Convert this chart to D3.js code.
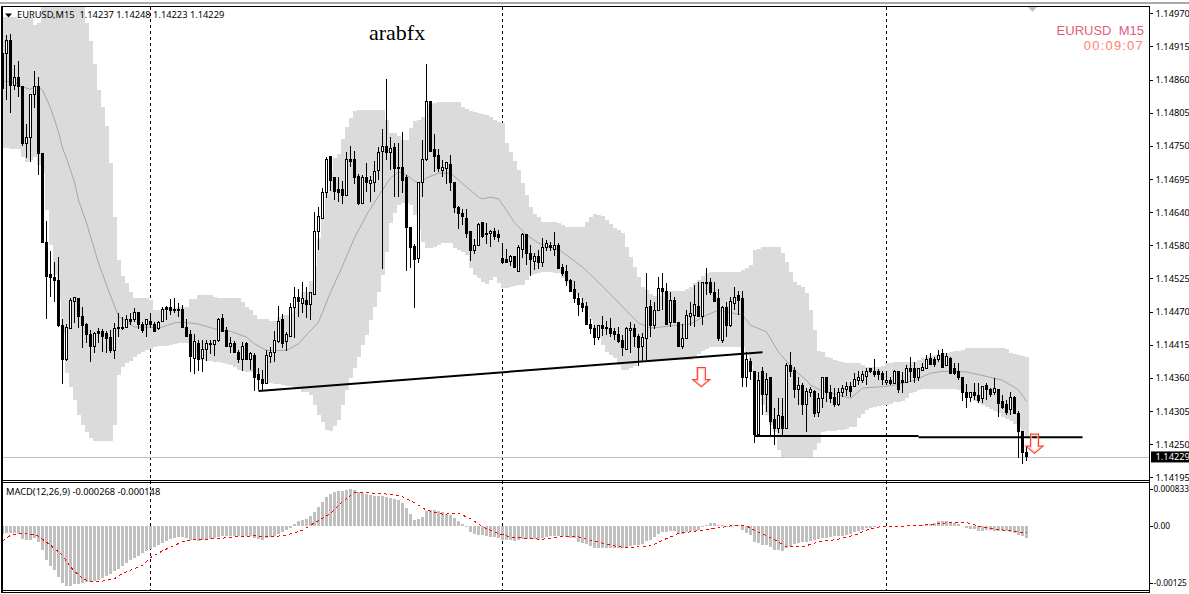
<!DOCTYPE html>
<html><head><meta charset="utf-8">
<script src="https://cdn.jsdelivr.net/npm/d3@7"></script>
<style>html,body{margin:0;padding:0;background:#fff;overflow:hidden}svg{display:block}
text{font-family:"Noto Sans",sans-serif;font-size:9.3px;fill:#000}</style>
</head><body><svg id="c" width="1189" height="594"></svg>
<script>
// Prices are in quote points above 1.14000 (845 = 1.14845). MACD values are in millionths.
const opens=[845,903,925,850,863,848,753,762,835,848,
736,588,533,528,523,448,391,444,489,494,
463,451,433,414,439,439,436,428,406,446,
446,446,459,458,471,451,451,456,451,443,
456,478,478,476,476,476,446,434,394,419,
394,409,418,416,423,461,441,413,419,403,
391,418,392,399,366,359,352,396,403,421,
458,421,431,478,496,486,491,483,501,606,
628,670,730,695,675,675,666,725,726,698,
653,695,685,688,708,740,748,738,746,711,
713,695,613,581,561,688,726,823,742,733,
708,711,718,688,645,636,628,605,573,583,
620,603,603,606,600,561,558,556,563,538,
576,600,569,556,563,553,579,583,576,583,
546,539,523,508,494,486,481,451,443,428,
448,446,443,439,434,423,409,441,444,431,
413,426,481,449,474,511,506,453,491,454,
413,426,463,466,481,464,519,521,504,494,
423,478,448,486,499,493,362,389,371,266,
372,334,362,292,276,297,277,382,374,341,
349,316,336,339,304,327,361,337,329,316,
337,342,346,347,357,357,364,376,372,371,
369,354,356,352,371,357,354,376,376,361,
374,377,394,392,391,401,382,394,376,372,
362,337,329,336,331,326,349,341,336,342,
321,317,309,329,302,271,237];
const closes=[903,925,850,862,847,753,763,835,848,736,
588,531,528,524,448,392,446,491,496,463,
449,433,413,436,436,431,426,407,444,443,
443,459,456,471,451,441,459,451,439,454,
476,476,473,474,474,446,431,397,421,392,
409,419,419,423,459,438,413,418,403,391,
414,391,401,362,359,352,399,404,424,456,
419,434,479,496,488,493,484,503,606,630,
670,726,691,673,671,665,725,723,695,653,
696,688,690,706,738,748,738,745,711,713,
691,613,578,559,688,726,823,740,730,711,
713,720,688,645,636,630,603,574,583,618,
598,600,606,598,596,553,554,564,546,579,
600,568,558,564,554,579,586,578,583,544,
536,523,506,494,484,478,451,443,428,448,
444,443,436,434,421,411,444,443,431,411,
428,479,448,474,511,506,451,491,454,414,
426,466,469,483,464,521,521,504,489,426,
479,448,488,496,491,362,391,372,266,357,
334,359,289,277,299,277,381,372,341,349,
316,339,341,302,326,361,337,327,316,337,
344,347,339,359,361,367,372,372,366,367,
359,357,351,371,342,354,376,372,361,376,
379,392,384,384,399,379,396,369,369,361,
336,329,336,331,324,346,341,334,344,319,
312,304,329,302,271,237,229];
const highs=[932,934,935,883,890,848,785,835,873,863,
736,623,573,554,563,459,451,494,496,494,
479,453,441,438,444,443,439,441,453,469,
463,466,469,478,471,454,459,469,454,456,
479,481,493,494,486,483,459,441,434,424,
424,424,424,424,461,468,446,429,423,408,
421,421,404,403,377,374,408,413,439,481,
468,438,486,513,509,521,513,504,638,646,
678,730,730,696,696,690,738,748,740,701,
700,720,698,723,746,777,860,763,753,753,
772,700,613,584,688,758,885,823,768,743,
725,721,733,688,648,643,643,605,593,620,
620,620,608,611,608,586,576,566,564,583,
603,600,583,569,574,595,591,588,605,586,
551,549,526,523,503,494,488,459,449,449,
464,456,461,444,446,433,446,454,451,434,
436,536,491,488,529,536,519,504,496,454,
451,474,488,516,521,521,544,528,521,509,
481,488,496,513,506,506,404,394,371,371,
379,369,362,311,327,327,386,404,379,362,
352,344,346,341,336,362,362,349,344,344,
349,354,354,369,372,372,377,376,392,376,
372,372,362,374,371,371,382,396,387,376,
386,399,403,396,408,409,403,396,386,386,
362,351,337,352,352,347,352,344,361,342,
332,324,337,331,306,271,248];
const lows=[842,825,803,842,830,748,728,721,812,700,
588,459,496,488,446,351,389,443,453,444,
411,419,387,403,419,404,403,403,392,429,
441,444,449,454,443,436,429,444,439,441,
456,458,466,469,463,446,429,371,367,372,
371,389,401,397,421,438,413,403,403,386,
372,391,374,339,341,341,352,386,387,419,
411,406,429,428,463,469,461,458,499,574,
626,661,673,658,655,651,665,713,685,650,
651,671,655,671,691,543,725,708,663,663,
670,539,544,478,553,663,723,740,705,705,
696,685,673,636,610,616,595,556,568,581,
595,584,579,591,588,551,554,548,546,538,
561,549,531,541,543,546,573,573,564,543,
531,514,504,486,464,471,449,434,416,424,
431,433,429,424,419,397,407,403,413,381,
387,391,429,443,473,474,449,446,454,413,
409,426,448,446,463,449,499,499,489,423,
419,429,446,474,466,346,346,357,252,266,
299,304,262,249,269,262,276,362,327,316,
299,271,329,296,296,311,321,319,312,314,
329,331,329,346,349,352,349,369,362,357,
349,349,349,351,336,336,352,354,352,356,
372,376,382,379,387,377,381,367,366,357,
322,311,321,324,319,319,324,329,332,296,
309,299,299,301,227,217,223];
const bandUpper=[964,964,964,964,960,960,964,964,950,954,
985,985,985,985,985,985,985,985,985,985,
985,954,924,885,842,813,782,720,630,558,
531,519,504,494,494,494,494,491,474,474,
478,478,478,478,479,479,479,493,493,499,
499,499,499,496,494,494,494,494,494,494,
488,479,474,466,459,459,459,456,456,463,
466,466,469,478,486,504,504,523,548,595,
633,670,705,728,735,760,780,795,807,808,
808,808,808,808,808,808,792,770,770,765,
758,758,778,790,792,797,817,818,820,822,
822,822,822,822,822,813,810,807,805,803,
802,800,797,792,788,787,753,738,723,708,
686,666,646,635,630,621,621,621,621,620,
616,613,613,613,613,613,621,630,635,633,
631,625,618,611,608,603,580,563,546,529,
513,508,501,498,498,504,506,506,506,506,
506,509,513,519,524,531,536,538,538,538,
538,538,538,538,538,541,544,549,574,576,
580,580,580,580,580,569,554,538,521,516,
513,503,474,441,406,404,396,394,391,389,
387,386,386,386,386,382,379,379,379,379,
381,386,386,387,387,387,387,387,387,391,
394,396,397,399,401,402,402,404,406,406,
407,411,411,411,411,411,411,411,411,411,
411,409,402,401,399,397,396];
const bandLower=[745,745,743,743,743,730,721,725,730,716,
703,641,583,533,491,436,369,346,324,299,
282,271,261,256,256,256,256,256,282,366,
379,386,389,396,401,404,407,409,413,414,
414,414,416,417,419,419,419,396,394,391,
391,389,389,387,387,386,384,382,379,374,
372,371,371,369,366,354,352,352,351,351,
349,347,347,346,342,337,337,332,316,299,
287,274,272,281,291,316,341,361,377,396,
416,433,458,479,504,533,571,620,636,650,
653,653,650,633,608,588,578,578,580,583,
586,586,586,578,574,571,566,544,533,528,
521,518,524,529,519,511,511,513,514,516,
516,524,533,534,536,538,538,538,536,536,
528,519,511,503,496,486,474,458,441,428,
416,404,399,394,382,374,374,377,381,387,
391,391,391,391,391,391,391,391,391,391,
391,391,391,396,401,406,409,413,413,413,
413,413,413,413,413,413,404,382,357,332,
316,299,282,271,240,227,227,227,227,227,
227,227,227,240,252,271,272,272,272,274,
274,276,279,279,294,301,307,311,312,314,
316,316,317,321,321,322,327,336,337,341,
342,342,342,342,342,342,342,342,342,341,
337,332,327,322,319,316,312,309,306,302,
296,292,289,284,279,272,262];
const maBars=[0,3,5,7,8,9,10,11,12,13,14,15,16,17,18,19,21,24,26,28,29,33,37,39,43,45,49,53,57,61,63,66,71,74,76,79,82,85,88,91,94,97,99,101,103,104,106,109,112,116,119,120,122,124,126,128,131,134,137,139,145,149,153,157,159,162,167,172,176,179,185,187,191,194,198,201,202,205,207,212,215,221,223,228,232,235,241,247,250,254,256];
const maVals=[857,855,847,843,847,848,842,827,812,792,772,745,728,708,688,658,620,553,516,481,464,446,446,444,453,454,451,443,439,429,418,407,407,418,433,454,504,548,595,633,665,695,705,700,690,686,695,703,703,680,663,660,663,660,641,620,600,586,579,576,546,521,494,466,453,444,448,451,466,474,466,449,438,404,374,357,349,339,336,327,344,347,349,357,369,372,371,362,357,341,322];
const macdHist=[-178,-148,-148,-148,-163,-274,-311,-311,-266,-340,
-533,-740,-888,-977,-1132,-1258,-1332,-1317,-1288,-1273,
-1258,-1243,-1243,-1221,-1184,-1147,-1095,-1051,-999,-947,
-888,-814,-755,-703,-651,-592,-555,-503,-459,-407,
-370,-326,-281,-259,-244,-244,-266,-296,-311,-326,
-311,-296,-281,-259,-237,-222,-222,-207,-207,-207,
-207,-207,-222,-259,-281,-296,-259,-237,-207,-163,
-118,-89,-30,59,111,148,163,222,311,429,
533,651,718,755,777,777,799,829,799,762,
740,718,681,666,666,666,651,629,607,577,
518,407,274,133,155,207,333,355,355,326,
311,281,244,185,111,44,-22,-133,-178,-185,
-200,-222,-229,-244,-252,-296,-311,-311,-333,-311,
-281,-274,-274,-274,-296,-259,-237,-215,-207,-222,
-222,-237,-266,-266,-348,-370,-392,-444,-488,-488,
-488,-481,-488,-488,-481,-481,-474,-429,-422,-422,
-400,-333,-311,-237,-170,-133,-133,-111,-111,-163,
-163,-133,-111,-111,-89,-22,37,67,67,22,
22,-15,-22,22,37,-89,-148,-192,-355,-370,
-407,-407,-459,-518,-533,-548,-474,-429,-392,-370,
-355,-340,-326,-311,-281,-259,-252,-237,-222,-222,
-207,-185,-163,-133,-111,-89,-37,-37,-22,15,
15,0,15,15,7,0,0,0,0,15,
30,44,59,74,104,104,104,89,74,59,
15,-44,-67,-67,-104,-104,-89,-89,-104,-104,
-111,-111,-133,-148,-185,-210,-268];
const sigBars=[0,2,4,7,9,12,15,17,20,22,24,28,30,35,37,40,43,46,50,54,58,63,67,71,75,78,82,85,88,91,95,99,100,103,106,110,114,117,120,124,127,131,135,139,144,147,152,156,162,166,169,173,178,182,186,188,191,194,196,199,200,204,209,213,216,220,225,230,236,241,244,247,252,256];
const sigVals=[-326,-200,-163,-178,-222,-422,-644,-903,-1162,-1236,-1236,-1162,-1051,-866,-696,-548,-422,-311,-289,-274,-237,-215,-237,-200,-89,74,281,540,747,740,725,673,651,518,355,266,281,170,-15,-163,-237,-274,-289,-237,-237,-311,-422,-481,-437,-274,-163,-111,-52,7,7,-89,-215,-348,-459,-459,-459,-348,-289,-200,-89,0,0,22,74,81,0,-52,-104,-148];
const priceTicks=[970,914.6,859.3,803.9,748.6,693.2,637.9,582.5,527.1,471.8,416.4,361,305.7,250.3,195];
const priceLabels=["1.14970","1.14915","1.14860","1.14805","1.14750","1.14695","1.14640","1.14580","1.14525","1.14470","1.14415","1.14360","1.14305","1.14250","1.14195"];
const macdTicks=[833,0,-1250];
const macdLabels=["0.000833","0.00","-0.00125"];
const periodBars=[37,125,221];
const lastPrice=229;
const trendA=[[64,339],[190,404]], trendB=[[188,264],[229,264]], trendC=[[229,262],[270,262]];
const arrowMarks=[[174.7,363],[258,252]];

const x=d3.scaleLinear().domain([0,256]).range([2.5,1026.5]);
const y=d3.scaleLinear().domain([195,970]).range([477.3,13.3]);
const m=d3.scaleLinear().domain([-1250,833]).range([582.6,488.6]);
const svg=d3.select("#c");
const defs=svg.append("defs");
defs.append("clipPath").attr("id","pa").append("rect").attr("x",2).attr("y",7).attr("width",1147).attr("height",473);
defs.append("clipPath").attr("id","pb").append("rect").attr("x",2).attr("y",483).attr("width",1147).attr("height",107);
const bars=d3.range(opens.length);

// frame
svg.append("rect").attr("x",0).attr("y",2).attr("width",1189).attr("height",2).attr("fill","#a8a8a8");
const crisp=s=>s.attr("shape-rendering","crispEdges");

// period separators, behind everything
svg.append("g").selectAll("line").data(periodBars).join("line")
 .attr("x1",d=>x(d)).attr("x2",d=>x(d)).attr("y1",7).attr("y2",590)
 .attr("stroke","#000").attr("stroke-dasharray","3,3").call(crisp);

const pa=svg.append("g").attr("clip-path","url(#pa)");
pa.append("g").selectAll("rect").data(bars).join("rect")
 .attr("x",i=>x(i)-2).attr("width",4)
 .attr("y",i=>y(bandUpper[i])).attr("height",i=>y(bandLower[i])-y(bandUpper[i]))
 .attr("fill","#dbdbdb").call(crisp);
pa.append("line").attr("x1",0).attr("x2",1149).attr("y1",Math.round(y(lastPrice))+.5).attr("y2",Math.round(y(lastPrice))+.5).attr("stroke","#c0c0c0");
pa.append("path").attr("d",d3.line().x((d,k)=>x(maBars[k])).y(d=>y(d))(maVals)).attr("fill","none").attr("stroke","#a6a6a6").attr("stroke-width",1);

const cg=pa.append("g");
cg.selectAll("line").data(bars).join("line")
 .attr("x1",i=>x(i)).attr("x2",i=>x(i)).attr("y1",i=>y(highs[i])).attr("y2",i=>y(lows[i]))
 .attr("stroke","#000").call(crisp);
cg.selectAll("rect").data(bars).join("rect")
 .attr("x",i=>x(i)-1).attr("width",2)
 .attr("y",i=>y(Math.max(opens[i],closes[i])))
 .attr("height",i=>Math.max(1,Math.abs(y(opens[i])-y(closes[i]))))
 .attr("fill",i=>closes[i]>opens[i]?"#fff":"#000").attr("stroke","#000").call(crisp);

// trend lines
const tl=d3.line().x(d=>x(d[0])).y(d=>y(d[1]));
[trendA,trendB,trendC].forEach(t=>pa.append("path").attr("d",tl(t)).attr("fill","none").attr("stroke","#000").attr("stroke-width",2));

// down arrows
const arrowD="M-4,-9H4V3H8.5L0,10L-8.5,3H-4Z";
arrowMarks.forEach(a=>{
 const g=pa.append("g").attr("transform",`translate(${x(a[0])},${y(a[1])})`);
 g.append("path").attr("d",arrowD).attr("fill","none").attr("stroke","#ff3a3a").attr("stroke-width",1.2);
 g.append("path").attr("d","M-2.8,-7.8H2.8V4.2H5L0,8.4L-5,4.2H-2.8Z").attr("fill","none").attr("stroke","#ffc9a0").attr("stroke-width",.8);
});

// MACD pane
const pb=svg.append("g").attr("clip-path","url(#pb)");
pb.append("g").selectAll("rect").data(bars).join("rect")
 .attr("x",i=>x(i)-1.5).attr("width",3)
 .attr("y",i=>Math.min(m(0),m(macdHist[i])))
 .attr("height",i=>Math.abs(m(macdHist[i])-m(0)))
 .attr("fill","#c0c0c0").call(crisp);
pb.append("path").attr("d",d3.line().x((d,k)=>x(sigBars[k])).y(d=>m(d))(sigVals))
 .attr("fill","none").attr("stroke","#f00").attr("stroke-width",1).attr("stroke-dasharray","3,3").attr("shape-rendering","crispEdges");

// borders
[[2,6,2,593],[1149.5,6,1149.5,593],[2,6.5,1149,6.5],[2,480.5,1149,480.5],[2,482.5,1149,482.5],[2,590.5,1149,590.5],[2,592.5,1149,592.5]].forEach(l=>{
 svg.append("line").attr("x1",l[0]).attr("y1",l[1]).attr("x2",l[2]).attr("y2",l[3]).attr("stroke","#000").attr("stroke-width",l[0]===2&&l[2]===2?1.5:1).call(crisp);
});
svg.append("path").attr("d","M1028,7H1037L1032.5,12Z").attr("fill","#c0c0c0");

// axes
const ax=svg.append("g").attr("transform","translate(1149.5,0)").call(d3.axisRight(y).tickValues(priceTicks).tickSize(3).tickPadding(3).tickFormat((d,k)=>priceLabels[k]));
const ax2=svg.append("g").attr("transform","translate(1149.5,0)").call(d3.axisRight(m).tickValues(macdTicks).tickSize(3).tickPadding(1).tickFormat((d,k)=>macdLabels[k]));
[ax,ax2].forEach(a=>{a.select(".domain").remove();a.selectAll("text").style("font-family",'"Noto Sans",sans-serif').style("font-size","9.3px").attr("fill","#000");a.selectAll("line").attr("stroke","#000").call(crisp);});
ax2.selectAll("text").style("font-size","8.3px");

// current price tag
svg.append("rect").attr("x",1151).attr("y",y(lastPrice)-5.5).attr("width",38).attr("height",11).attr("fill","#000");
svg.append("text").attr("x",1155.5).attr("y",y(lastPrice)+3.3).text("1.14229").style("fill","#fff");

// labels
svg.append("path").attr("d","M5,13.5H12L8.5,17.5Z").attr("fill","#000");
svg.append("text").attr("x",17).attr("y",18).text("EURUSD,M15  1.14237 1.14248 1.14223 1.14229").style("white-space","pre");
svg.append("text").attr("x",6).attr("y",494.5).text("MACD(12,26,9) -0.000268 -0.000148");
svg.append("text").attr("x",369).attr("y",40).text("arabfx").style("font-family",'"Liberation Serif",serif').style("font-size","22px");
svg.append("text").attr("x",1144).attr("y",35).attr("text-anchor","end").text("EURUSD  M15").style("white-space","pre").style("font-family",'"Liberation Sans",sans-serif').style("font-size","13px").style("fill","#e0607a");
svg.append("text").attr("x",1144).attr("y",50).attr("text-anchor","end").text("00:09:07").style("font-family",'"Liberation Sans",sans-serif').style("font-size","13px").style("letter-spacing","1.2px").style("fill","#ff8070");
</script></body></html>
